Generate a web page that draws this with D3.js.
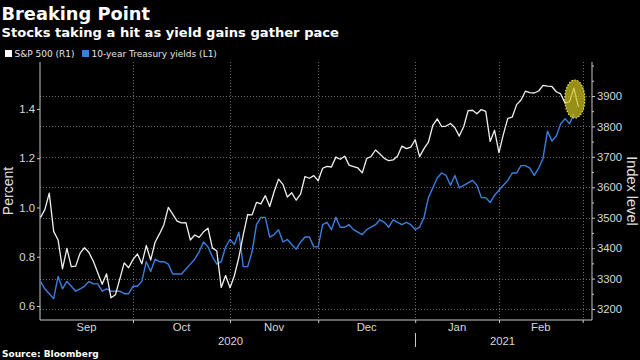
<!DOCTYPE html>
<html><head><meta charset="utf-8">
<script src="https://cdn.jsdelivr.net/npm/d3@7"></script>
<style>body{margin:0;background:#000}svg{display:block}</style>
</head><body><svg id="c" width="640" height="360"></svg>
<script>
// ---- data ----
const title = "Breaking Point";
const subtitle = "Stocks taking a hit as yield gains gather pace";
const seriesNames = ["S&P 500 (R1)", "10-year Treasury yields (L1)"];
const holidays = ["2020-09-07","2020-11-26","2020-12-25","2021-01-01","2021-01-18","2021-02-15"];
const firstDay = "2020-08-31", lastAxisDay = "2021-03-01";
const monthLabels = ["Sep","Oct","Nov","Dec","Jan","Feb"];
const monthStarts = ["2020-10","2020-11","2020-12","2021-01","2021-02","2021-03"];
const yearLabels = ["2020","2021"];
const leftTicks = [0.6, 0.8, 1.0, 1.2, 1.4];
const rightTicks = [3200, 3300, 3400, 3500, 3600, 3700, 3800, 3900];
const rightMinor = [3250, 3350, 3450, 3550, 3650, 3750, 3850, 3950, 4000];
// S&P 500, one value per trading day from 2020-08-31
const spx = [
 3500.3, 3526.7, 3580.8, 3455.1, 3427.0,
 3331.8, 3399.0, 3339.2, 3341.0,
 3383.5, 3401.2, 3385.5, 3357.0, 3319.5,
 3281.1, 3315.6, 3236.9, 3246.6, 3298.5,
 3351.6, 3335.5, 3363.0, 3380.8, 3348.4,
 3408.6, 3361.0, 3419.4, 3446.8, 3477.1,
 3534.2, 3511.9, 3488.7, 3483.3, 3483.8,
 3426.9, 3443.1, 3435.6, 3453.5, 3465.4,
 3401.0, 3390.7, 3271.0, 3310.1, 3270.0,
 3310.2, 3369.2, 3443.4, 3510.5, 3509.4,
 3550.5, 3545.5, 3572.7, 3537.0, 3585.2,
 3626.9, 3609.5, 3567.8, 3581.9, 3557.5,
 3577.6, 3635.4, 3629.7, 3638.4,
 3621.6, 3662.5, 3669.0, 3666.7, 3699.1,
 3692.0, 3702.3, 3672.8, 3668.1, 3663.5,
 3647.5, 3694.6, 3701.2, 3722.5, 3709.4,
 3694.9, 3687.3, 3690.0, 3703.1,
 3735.4, 3727.0, 3732.0, 3756.1,
 3700.7, 3726.9, 3748.1, 3803.8, 3824.7,
 3799.6, 3801.2, 3809.8, 3795.5, 3768.3,
 3798.9, 3851.9, 3853.1, 3841.5,
 3855.4, 3849.6, 3750.8, 3787.4, 3714.2,
 3773.9, 3826.3, 3830.2, 3871.7, 3886.8,
 3915.6, 3911.2, 3909.9, 3916.4, 3934.8,
 3932.6, 3931.3, 3914.0, 3906.7,
 3876.5, 3881.4, 3925.4, 3864.0
];
// 10-year Treasury yield, percent
const yields = [
 0.70, 0.67, 0.65, 0.63, 0.72,
 0.67, 0.70, 0.68, 0.66,
 0.67, 0.68, 0.70, 0.69, 0.69,
 0.66, 0.67, 0.66, 0.66, 0.66,
 0.65, 0.65, 0.68, 0.68, 0.70,
 0.78, 0.74, 0.79, 0.78, 0.78,
 0.77, 0.73, 0.73, 0.73, 0.75,
 0.77, 0.79, 0.82, 0.86, 0.84,
 0.80, 0.77, 0.78, 0.84, 0.87,
 0.85, 0.90, 0.76, 0.76, 0.82,
 0.93, 0.96, 0.96, 0.88, 0.89,
 0.91, 0.86, 0.87, 0.85, 0.83,
 0.86, 0.88, 0.88, 0.84,
 0.84, 0.93, 0.94, 0.91, 0.96,
 0.92, 0.92, 0.93, 0.91, 0.90,
 0.89, 0.91, 0.92, 0.93, 0.95,
 0.94, 0.92, 0.95, 0.94,
 0.93, 0.94, 0.93, 0.91,
 0.92, 0.96, 1.04, 1.08, 1.12,
 1.14, 1.13, 1.09, 1.13, 1.08,
 1.09, 1.10, 1.11, 1.09,
 1.04, 1.04, 1.02, 1.05, 1.07,
 1.09, 1.11, 1.14, 1.14, 1.17,
 1.17, 1.16, 1.13, 1.16, 1.20,
 1.31, 1.27, 1.29, 1.34,
 1.36, 1.34, 1.38
];

// ---- trading-day calendar (categories) ----
const fmt = d3.utcFormat("%Y-%m-%d");
const dates = [];
for (let d = new Date(firstDay + "T00:00:00Z"); fmt(d) <= lastAxisDay; d = d3.utcDay.offset(d, 1)) {
  const wd = d.getUTCDay();
  if (wd === 0 || wd === 6 || holidays.includes(fmt(d))) continue;
  dates.push(fmt(d));
}

// ---- layout ----
const W = 640, H = 360;
const m = {left: 40, right: 592, top: 62, bottom: 320};
const svg = d3.select("#c");
svg.append("rect").attr("width", W).attr("height", H).attr("fill", "#000");

const x = d3.scaleLinear().domain([-0.1, 125.1]).range([m.left, m.right]);
const yL = d3.scaleLinear().domain([0.5432, 1.5907]).range([m.bottom, m.top]);
const yR = d3.scaleLinear().domain([3163.9, 4011.7]).range([m.bottom, m.top]);

const fontMain = "'DejaVu Sans', sans-serif";
const fontAxis = "'Liberation Sans', Arial, sans-serif";

// titles
svg.append("text").attr("x", 1.5).attr("y", 20).text(title)
  .attr("fill", "#fff").attr("font-family", fontMain).attr("font-weight", "bold").attr("font-size", 17.8);
svg.append("text").attr("x", 1.5).attr("y", 37).text(subtitle)
  .attr("fill", "#fff").attr("font-family", fontMain).attr("font-weight", "bold").attr("font-size", 13.1);

// legend
const legColors = ["#ffffff", "#3a7fe0"];
const legX = [5, 82];
seriesNames.forEach((n, i) => {
  svg.append("rect").attr("x", legX[i]).attr("y", 50).attr("width", 7).attr("height", 7).attr("fill", legColors[i]);
  svg.append("text").attr("x", legX[i] + 9.5).attr("y", 57).text(n)
    .attr("fill", "#e6e6e6").attr("font-family", fontMain).attr("font-size", 9);
});

// month boundaries (last trading day of previous month)
const bounds = monthStarts.map(ms => dates.findIndex(d => d.startsWith(ms)) - 1);

// gridlines
const grid = svg.append("g").attr("stroke", "#6a6a6a").attr("stroke-width", 1).attr("stroke-dasharray", "1,2");
rightTicks.forEach(v => grid.append("line").attr("x1", m.left).attr("x2", m.right)
  .attr("y1", Math.round(yR(v)) + 0.5).attr("y2", Math.round(yR(v)) + 0.5));
bounds.forEach(b => grid.append("line").attr("x1", Math.round(x(b)) + 0.5).attr("x2", Math.round(x(b)) + 0.5)
  .attr("y1", m.top).attr("y2", m.bottom));

// axes
const axCol = "#c8c8c8";
const gL = svg.append("g").attr("transform", `translate(${m.left},0)`)
  .call(d3.axisLeft(yL).tickValues(leftTicks).tickFormat(d3.format(".1f")).tickSize(3).tickPadding(2));
const gR = svg.append("g").attr("transform", `translate(${m.right},0)`)
  .call(d3.axisRight(yR).tickValues(rightTicks).tickFormat(d3.format("d")).tickSize(3).tickPadding(2));
svg.append("g").attr("transform", `translate(${m.right},0)`)
  .call(d3.axisRight(yR).tickValues(rightMinor).tickFormat("").tickSize(2).tickSizeOuter(0))
  .select(".domain").remove();
const gB = svg.append("g").attr("transform", `translate(0,${m.bottom})`)
  .call(d3.axisBottom(x).tickValues(bounds).tickFormat("").tickSize(3).tickSizeOuter(0));
[gL, gR, gB].forEach(g => {
  g.selectAll(".domain").attr("stroke", axCol);
  g.selectAll(".tick line").attr("stroke", axCol);
  g.selectAll("text").attr("fill", "#d8d8d8").attr("font-family", fontAxis).attr("font-size", 11.3);
});
svg.selectAll(".tick line").attr("stroke", axCol);
// remove outer tick stubs on left/right domain paths
gL.select(".domain").attr("d", `M0,${m.top}V${m.bottom}`);
gR.select(".domain").attr("d", `M0,${m.top}V${m.bottom}`);
gB.select(".domain").attr("d", `M${m.left},0H${m.right}`);

// month labels
const edges = [-0.1, ...bounds];
monthLabels.forEach((lab, i) => {
  svg.append("text").attr("x", (x(edges[i]) + x(edges[i + 1])) / 2).attr("y", 331)
    .attr("text-anchor", "middle").text(lab)
    .attr("fill", "#d8d8d8").attr("font-family", fontAxis).attr("font-size", 11.3);
});
// year labels + separator
const janB = bounds[3];
const yearCenters = [(x(-0.1) + x(janB)) / 2 + 3, (x(janB) + x(125.1)) / 2 - 1];
yearLabels.forEach((lab, i) => {
  svg.append("text").attr("x", yearCenters[i]).attr("y", 345).attr("text-anchor", "middle").text(lab)
    .attr("fill", "#d8d8d8").attr("font-family", fontAxis).attr("font-size", 11.3);
});
svg.append("line").attr("x1", Math.round(x(janB)) + 0.5).attr("x2", Math.round(x(janB)) + 0.5)
  .attr("y1", 333).attr("y2", 347).attr("stroke", axCol);

// axis titles
svg.append("text").attr("transform", `translate(13,191) rotate(-90)`).attr("text-anchor", "middle")
  .text("Percent").attr("fill", "#e0e0e0").attr("font-family", fontAxis).attr("font-size", 14);
svg.append("text").attr("transform", `translate(627,191) rotate(90)`).attr("text-anchor", "middle")
  .text("Index level").attr("fill", "#e0e0e0").attr("font-family", fontAxis).attr("font-size", 14.5);

// lines
const lineL = d3.line().x((d, i) => x(i)).y(d => yL(d));
const lineR = d3.line().x((d, i) => x(i)).y(d => yR(d));
svg.append("path").datum(yields).attr("d", lineL).attr("fill", "none")
  .attr("stroke", "#3a7fe0").attr("stroke-width", 1.4).attr("stroke-linejoin", "round");
svg.append("path").datum(spx).attr("d", lineR).attr("fill", "none")
  .attr("stroke", "#f0f0f0").attr("stroke-width", 1.3).attr("stroke-linejoin", "round");

// highlight ellipse
svg.append("ellipse").attr("cx", x(121.2)).attr("cy", yR(3890)).attr("rx", 10).attr("ry", 19)
  .attr("fill", "#c9c020").attr("fill-opacity", 0.75)
  .attr("stroke", "#f2e840").attr("stroke-width", 1.2).attr("stroke-dasharray", "1.5,1.5");

// source
svg.append("text").attr("x", 2).attr("y", 357).text("Source: Bloomberg")
  .attr("fill", "#fff").attr("font-family", fontMain).attr("font-weight", "bold").attr("font-size", 9);
</script>
</body></html>
